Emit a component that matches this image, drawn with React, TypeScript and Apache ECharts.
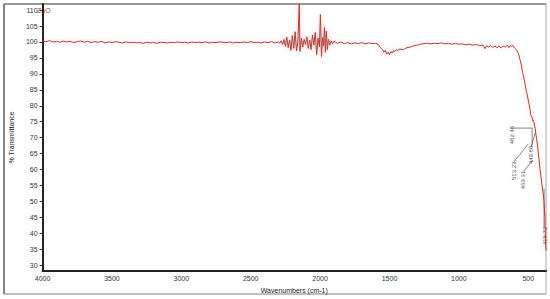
import React, { useEffect, useRef } from "react";
import * as echarts from "echarts";

// Spectrum: wavenumbers (cm-1) and % transmittance
const wavenumbers: number[] = [
  4000, 3975, 3950, 3925, 3900, 3875, 3850, 3825, 3800, 3775, 3750, 3725, 3700, 3675, 3650, 3625, 3600, 3575, 3550, 3525,
  3500, 3475, 3450, 3425, 3400, 3375, 3350, 3325, 3300, 3275, 3250, 3225, 3200, 3175, 3150, 3125, 3100, 3075, 3050, 3025,
  3000, 2975, 2950, 2925, 2900, 2875, 2850, 2825, 2800, 2775, 2750, 2725, 2700, 2675, 2650, 2625, 2600, 2575, 2550, 2525,
  2500, 2475, 2450, 2425, 2400, 2375, 2350, 2325, 2300,
  2290, 2280, 2270, 2260, 2250, 2240, 2230, 2220, 2210, 2200, 2190, 2180, 2170, 2160, 2150, 2145, 2135, 2125, 2115, 2105,
  2095, 2085, 2075, 2065, 2055, 2045, 2035, 2025, 2015, 2005, 1998, 1990, 1982, 1975, 1968, 1962, 1955, 1948, 1940, 1930,
  1920, 1910, 1900,
  1875, 1850, 1825, 1800, 1775, 1750, 1725, 1700, 1675, 1650, 1625, 1600, 1580, 1565, 1550, 1540, 1530, 1520, 1510, 1500,
  1490, 1480, 1470, 1460, 1450, 1440, 1425, 1400, 1375, 1350, 1325, 1300, 1275, 1250, 1225, 1200, 1175, 1150, 1125, 1100,
  1075, 1050, 1025, 1000, 975, 950, 925, 900, 875, 850, 825, 812, 800, 785, 770, 755, 740, 725, 710, 695,
  680, 665, 650, 640, 630, 620, 610,
  600, 590, 580, 571, 560, 550, 540, 528, 518, 513, 507, 500, 493, 486, 482, 479, 472, 469, 465, 457,
  450, 443, 436, 429, 422, 415, 408, 401, 394, 387, 380, 376, 372,
];
const transmittance: number[] = [
  100.3, 100.1, 100.4, 100.0, 100.2, 99.9, 100.3, 100.0, 100.2, 99.8, 100.1, 100.3, 99.9, 100.2, 99.8, 100.1, 99.9, 100.2, 99.7, 100.0,
  99.8, 100.1, 99.9, 99.7, 100.0, 99.8, 99.9, 99.7, 99.8, 99.6, 99.9, 99.7, 99.8, 99.6, 99.9, 99.8, 99.7, 99.9, 99.8, 100.0,
  99.8, 99.9, 99.7, 100.0, 99.8, 99.9, 99.8, 100.0, 99.7, 99.9, 99.8, 100.0, 99.9, 99.8, 100.0, 99.7, 99.9, 99.8, 100.0, 99.8,
  100.1, 99.8, 99.9, 99.7, 100.0, 99.8, 100.1, 99.7, 100.0,
  99.6, 100.4, 99.2, 100.8, 98.6, 101.5, 98.2, 100.6, 97.4, 102.0, 98.0, 103.2, 97.2, 100.0, 112.5, 97.0, 101.2, 98.4, 100.8, 99.2,
  101.6, 98.0, 100.6, 97.6, 102.2, 99.0, 103.0, 96.0, 101.2, 98.5, 108.6, 95.4, 101.4, 98.8, 104.6, 96.8, 103.4, 97.6, 100.8, 99.0,
  100.4, 99.4, 100.2,
  99.6, 100.0, 99.5, 99.8, 99.4, 99.7, 99.5, 99.8, 99.4, 99.7, 99.5, 99.6, 99.2, 98.2, 97.6, 96.8, 97.4, 96.2, 96.8, 96.0,
  97.0, 96.6, 97.4, 97.0, 97.6, 97.3, 97.8, 97.6, 98.2, 98.4, 98.8, 99.0, 99.3, 99.5, 99.6, 99.4, 99.6, 99.5, 99.7, 99.4,
  99.6, 99.3, 99.5, 99.3, 99.4, 99.1, 99.3, 99.0, 99.2, 98.9, 99.0, 97.9, 98.8, 98.4, 98.9, 98.3, 98.7, 98.2, 98.8, 98.1,
  98.7, 98.4, 99.0, 98.2, 98.9, 98.6, 98.9,
  98.2, 97.8, 97.2, 96.4, 94.6, 92.8, 90.4, 88.0, 85.6, 84.4, 83.4, 81.8, 80.3, 78.6, 77.2, 77.0, 76.2, 75.4, 75.6, 74.6,
  72.8, 70.6, 68.6, 66.0, 63.0, 60.0, 57.6, 55.2, 53.0, 50.4, 45.0, 38.0, 34.5,
];

// Axis ticks
const xTicks: number[] = [4000, 3500, 3000, 2500, 2000, 1500, 1000, 500];
const yTicks: number[] = [30, 35, 40, 45, 50, 55, 60, 65, 70, 75, 80, 85, 90, 95, 100, 105, 110];

// Peak annotations
const peakNames: string[] = ["482.46", "449.88", "513.23", "469.31", "418.72"];
const peakLabelW: number[] = [620, 479, 606, 535, 380];
const peakLabelV: number[] = [70.8, 64.6, 59.6, 56.7, 39.2];
const peakLeaderW: number[][] = [[627, 472, 472], [479, 450], [606, 500], [535, 465], [386, 386]];
const peakLeaderV: number[][] = [[73.0, 73.0, 67.5], [67.1, 71.5], [62.3, 68.0], [59.4, 63.0], [41.7, 54.0]];

export default function App() {
  const ref = useRef<HTMLDivElement>(null);
  useEffect(() => {
    if (!ref.current) return;
    const chart = echarts.init(ref.current, undefined, { renderer: "svg" });
    const spectrum = wavenumbers.map((w, i) => [w, transmittance[i]]);
    const labelData = peakNames.map((n, i) => ({ name: n, value: [peakLabelW[i], peakLabelV[i]] }));
    const leaderData = peakLeaderW.map((ws, i) => ({ coords: ws.map((w, j) => [w, peakLeaderV[i][j]]) }));
    chart.setOption({
      animation: false,
      backgroundColor: "#ffffff",
      textStyle: { fontFamily: "Liberation Sans, Arial, sans-serif" },
      grid: { left: 33, right: 4, top: 4, bottom: 28, containLabel: false },
      xAxis: {
        type: "value",
        inverse: true,
        min: 372,
        max: 4000,
        name: "Wavenumbers (cm-1)",
        nameLocation: "middle",
        nameGap: 14,
        nameTextStyle: { fontSize: 7, color: "#222" },
        axisLine: { show: true, lineStyle: { color: "#222", width: 2 } },
        axisTick: { show: false, customValues: xTicks },
        axisLabel: { fontSize: 7, color: "#333", margin: 4, customValues: xTicks, formatter: (v: number) => String(v) },
        splitLine: { show: false },
      },
      yAxis: {
        type: "value",
        min: 28.2,
        max: 111.9,
        name: "% Transmittance",
        nameLocation: "middle",
        nameGap: 23,
        nameRotate: 90,
        nameTextStyle: { fontSize: 7, color: "#222" },
        axisLine: { show: true, lineStyle: { color: "#222", width: 2 } },
        axisTick: { show: true, length: 3, customValues: yTicks, lineStyle: { color: "#333", width: 1 } },
        axisLabel: { fontSize: 7, color: "#333", margin: 5, customValues: yTicks },
        splitLine: { show: false },
      },
      series: [
        {
          type: "line",
          data: spectrum,
          showSymbol: false,
          symbol: "none",
          clip: true,
          lineStyle: {
            color: "#a8452f",
            width: 1,
            shadowColor: "rgba(255,110,150,0.55)",
            shadowBlur: 5,
          },
        },
        {
          type: "lines",
          coordinateSystem: "cartesian2d",
          polyline: true,
          data: leaderData,
          lineStyle: { color: "#555", width: 0.7, opacity: 1 },
          silent: true,
        },
        {
          type: "scatter",
          data: labelData,
          symbolSize: 0,
          silent: true,
          label: {
            show: true,
            position: "inside",
            rotate: 90,
            fontSize: 6,
            color: "#222",
            formatter: (p: any) => p.name,
          },
        },
      ],
      graphic: [
        { type: "line", shape: { x1: 4, y1: 4, x2: 546, y2: 4 }, style: { stroke: "#333", lineWidth: 1 } },
        { type: "line", shape: { x1: 4, y1: 4, x2: 4, y2: 294 }, style: { stroke: "#333", lineWidth: 1.2 } },
        { type: "line", shape: { x1: 4, y1: 294, x2: 546, y2: 294 }, style: { stroke: "#aaa", lineWidth: 1.5 } },
        { type: "line", shape: { x1: 546, y1: 4, x2: 546, y2: 294 }, style: { stroke: "#aaa", lineWidth: 1 } },
        { type: "text", x: 37, y: 7, style: { text: "ZnO", fontSize: 7, fill: "#b5483a", fontFamily: "Liberation Sans, Arial, sans-serif" } },
      ],
    });
    return () => chart.dispose();
  }, []);
  return <div ref={ref} style={{ width: 550, height: 299, position: "absolute", left: 0, top: 0 }} />;
}
